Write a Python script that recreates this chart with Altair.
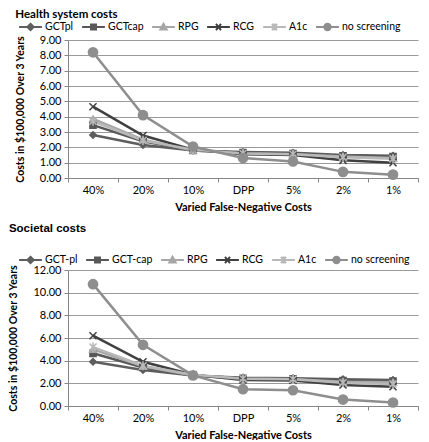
import json
import altair as alt
import pandas as pd

categories = ["40%", "20%", "10%", "DPP", "5%", "2%", "1%"]

hs_series = ["GCTpl", "GCTcap", "RPG", "RCG", "A1c", "no screening"]
hs_gctpl = [2.80, 2.15, 1.80, 1.70, 1.65, 1.50, 1.45]
hs_gctcap = [3.45, 2.40, 1.80, 1.65, 1.60, 1.45, 1.40]
hs_rpg = [3.85, 2.50, 1.80, 1.60, 1.55, 1.40, 1.30]
hs_rcg = [4.65, 2.77, 1.85, 1.55, 1.50, 1.15, 1.00]
hs_a1c = [3.70, 2.45, 1.85, 1.60, 1.55, 1.35, 1.25]
hs_none = [8.20, 4.10, 2.05, 1.30, 1.08, 0.40, 0.22]

soc_series = ["GCT-pl", "GCT-cap", "RPG", "RCG", "A1c", "no screening"]
soc_gctpl = [3.90, 3.18, 2.70, 2.50, 2.45, 2.35, 2.30]
soc_gctcap = [4.65, 3.40, 2.70, 2.45, 2.40, 2.25, 2.20]
soc_rpg = [5.00, 3.50, 2.70, 2.40, 2.35, 2.15, 2.10]
soc_rcg = [6.20, 3.90, 2.75, 2.30, 2.25, 1.85, 1.70]
soc_a1c = [5.20, 3.55, 2.75, 2.40, 2.35, 2.05, 1.95]
soc_none = [10.75, 5.40, 2.70, 1.48, 1.39, 0.57, 0.31]

colors = ["#5e5e5e", "#585858", "#a6a6a6", "#404040", "#b8b8b8", "#8e8e8e"]
marker_shapes = ["diamond", "square", "triangle-up",
                 "M-1,-1L1,1M-1,1L1,-1",
                 "M-1,-1L1,1M-1,1L1,-1M0,-1.3L0,1.3",
                 "circle"]
marker_sizes = [42, 38, 45, 50, 50, 85]
legend_paths = [
    "M-1,0L1,0M0,-0.28L0.28,0L0,0.28L-0.28,0Z",
    "M-1,0L1,0M-0.22,-0.22L0.22,-0.22L0.22,0.22L-0.22,0.22Z",
    "M-1,0L1,0M0,-0.28L0.28,0.22L-0.28,0.22Z",
    "M-1,0L1,0M-0.22,-0.28L0.22,0.28M-0.22,0.28L0.22,-0.28",
    "M-1,0L1,0M-0.22,-0.28L0.22,0.28M-0.22,0.28L0.22,-0.28M0,-0.3L0,0.3",
    "M-1,0L1,0M0.28,0A0.28,0.28,0,1,1,-0.28,0A0.28,0.28,0,1,1,0.28,0Z",
]

FONT = "Lato"


def frame(series, arrays):
    rows = []
    for i, (s, vals) in enumerate(zip(series, arrays)):
        for c, v in zip(categories, vals):
            rows.append({"series": s, "cat": c, "value": v, "col": colors[i],
                         "shp": marker_shapes[i], "sz": marker_sizes[i], "k": i})
    return pd.DataFrame(rows)


def panel(title, title_font, series, arrays, ymax, ystep, legend_y, title_offset, width, height):
    df = frame(series, arrays)
    idx = f"indexof({json.dumps(series)}, datum.value)"
    legend = alt.Legend(
        title=None, orient="none", direction="horizontal",
        legendX=-50, legendY=legend_y,
        symbolSize=520, clipHeight=12, columnPadding=7, labelOffset=2,
        labelFont=FONT, labelFontSize=10.5, labelColor="#000000",
        symbolStrokeWidth=2, symbolOpacity=1,
        symbolType=alt.ExprRef(expr=f"{json.dumps(legend_paths)}[{idx}]"),
        symbolStrokeColor=alt.ExprRef(expr=f"{json.dumps(colors)}[{idx}]"),
    )
    x = alt.X("cat:N", sort=categories,
              scale=alt.Scale(type="band", paddingInner=0, paddingOuter=0),
              axis=alt.Axis(title="Varied False-Negative Costs", labelAngle=0,
                            tickBand="extent", grid=False, tickSize=4,
                            domainColor="#868686", tickColor="#868686",
                            labelFont=FONT, labelFontSize=11, labelPadding=2,
                            titleFont=FONT, titleFontSize=11, titleFontWeight="bold",
                            titlePadding=6, labelColor="#000000", titleColor="#000000"))
    yvals = [i * ystep for i in range(int(round(ymax / ystep)) + 1)]
    y = alt.Y("value:Q", scale=alt.Scale(domain=[0, ymax], nice=False),
              axis=alt.Axis(title="Costs in $100,000 Over 3 Years", values=yvals,
                            format=".2f", tickSize=4, grid=True,
                            gridColor="#9a9a9a", domainColor="#868686",
                            tickColor="#868686", labelFont=FONT, labelFontSize=11,
                            labelPadding=3, titleFont=FONT, titleFontSize=10.5,
                            titleFontWeight="bold", titlePadding=14,
                            labelColor="#000000", titleColor="#000000"))
    base = alt.Chart(df)
    lines = base.mark_line(strokeWidth=2.5).encode(
        x=x, y=y,
        stroke=alt.Stroke("col:N", scale=None),
        detail="series:N",
    )
    points = base.mark_point(opacity=1, filled=True, strokeWidth=1.5).encode(
        x=x, y=y,
        fill=alt.Fill("series:N", scale=alt.Scale(domain=series, range=colors), legend=legend),
        stroke=alt.Stroke("col:N", scale=None),
        shape=alt.Shape("shp:N", scale=None),
        size=alt.Size("sz:Q", scale=None),
        order=alt.Order("k:Q"),
    )
    return alt.layer(lines, points).properties(
        width=width, height=height,
        title=alt.TitleParams(title, anchor="start", font=title_font, fontSize=11.5,
                              fontWeight="bold", color="#000000", offset=title_offset),
    )


top = panel("Health system costs", FONT, hs_series,
            [hs_gctpl, hs_gctcap, hs_rpg, hs_rcg, hs_a1c, hs_none], 9, 1, -19, 1, 350, 138)
bottom = panel("Societal costs", "Liberation Sans", soc_series,
               [soc_gctpl, soc_gctcap, soc_rpg, soc_rcg, soc_a1c, soc_none], 12, 2, -16, 20, 350, 136)

chart = alt.vconcat(top, bottom, spacing=10).resolve_scale(
    fill="independent"
).resolve_legend(fill="independent").configure(padding=0).configure_view(stroke=None)

chart.save("out.html", embed_options={"renderer": "svg", "actions": False})
